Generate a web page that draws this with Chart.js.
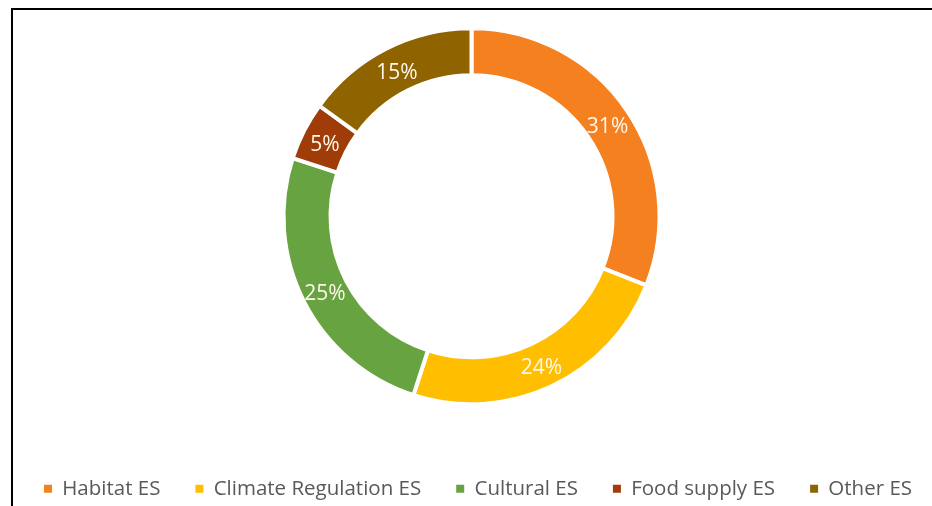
<!DOCTYPE html>
<html><head><meta charset="utf-8">
<script src="https://cdn.jsdelivr.net/npm/chart.js@4"></script>
<style>
html,body{margin:0;padding:0;width:932px;height:506px;overflow:hidden;background:#fff;position:relative}
#frame{position:absolute;left:11px;top:8px;width:1000px;height:600px;border:2px solid #000;box-sizing:border-box}
#wrap{position:absolute;left:-20px;top:-11px;width:1100px;height:520px}
</style></head><body>
<div id="frame"></div>
<div id="wrap"><canvas id="c" width="1100" height="520"></canvas></div>
<script>
const categories = ['Habitat ES', 'Climate Regulation ES', 'Cultural ES', 'Food supply ES', 'Other ES'];
const shares = [31, 24, 25, 5, 15];
const palette = ['#F4801F', '#FFBF00', '#67A340', '#A03C07', '#8E6300'];

const sliceLabels = {
  id: 'sliceLabels',
  afterDatasetsDraw(chart) {
    const ctx = chart.ctx;
    const meta = chart.getDatasetMeta(0);
    const vals = chart.data.datasets[0].data;
    ctx.save();
    ctx.font = '21px "Open Sans"';
    ctx.fillStyle = '#FFF8EC';
    ctx.textAlign = 'center';
    ctx.textBaseline = 'middle';
    meta.data.forEach((arc, i) => {
      const p = arc.tooltipPosition();
      ctx.fillText(vals[i] + '%', p.x, p.y + 3);
    });
    ctx.restore();
  }
};

const legendShift = {
  id: 'legendShift',
  afterLayout(chart) {
    const lg = chart.legend;
    if (lg) { lg.left += 6.5; lg.right += 6.5; }
  }
};

function draw() {
  const baseGen = Chart.overrides.doughnut.plugins.legend.labels.generateLabels;
  new Chart(document.getElementById('c'), {
    type: 'doughnut',
    data: {
      labels: categories,
      datasets: [{
        data: shares,
        backgroundColor: palette,
        borderColor: '#FFFFFF',
        borderWidth: 4,
        radius: 188,
        cutout: '75%'
      }]
    },
    options: {
      responsive: false,
      animation: false,
      layout: { padding: { left: 0, right: 117, top: 0, bottom: 0 } },
      plugins: {
        tooltip: { enabled: false },
        legend: {
          position: 'bottom',
          align: 'center',
          labels: {
            boxWidth: 8,
            boxHeight: 8,
            padding: 35,
            color: '#595959',
            font: { family: 'Open Sans', size: 20.5 },
            generateLabels(chart) {
              return baseGen(chart).map(l => Object.assign({}, l, { lineWidth: 0, strokeStyle: 'rgba(0,0,0,0)' }));
            }
          }
        }
      }
    },
    plugins: [sliceLabels, legendShift]
  });
}
if (document.fonts && document.fonts.load) {
  Promise.all([document.fonts.load('21px "Open Sans"'), document.fonts.load('20.5px "Open Sans"')]).then(draw, draw);
} else { draw(); }
</script>
</body></html>
